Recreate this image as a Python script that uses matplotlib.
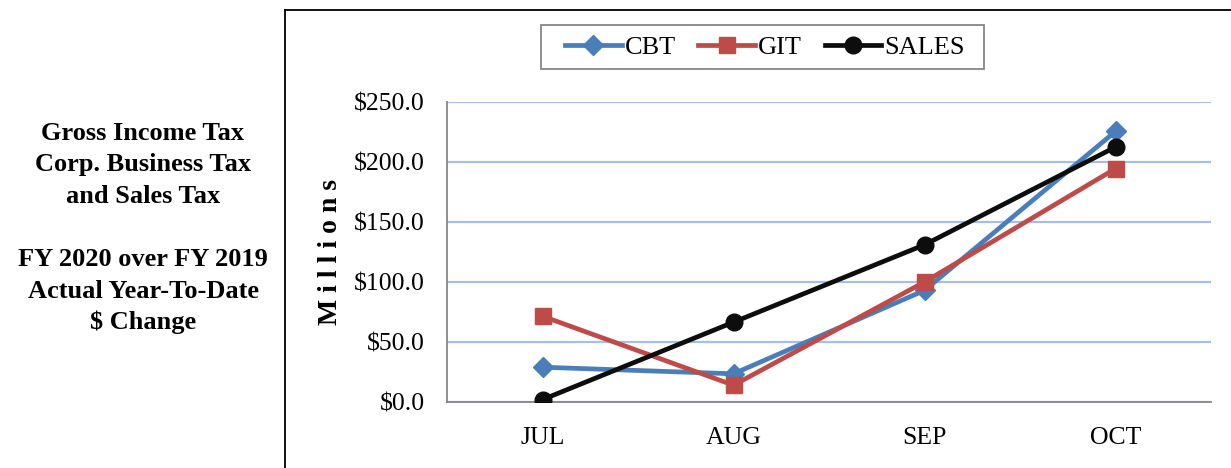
import matplotlib
matplotlib.use("Agg")
import matplotlib.pyplot as plt
from matplotlib.lines import Line2D
from matplotlib.patches import Rectangle

months = ["JUL", "AUG", "SEP", "OCT"]
cbt = [29.0, 23.5, 93.0, 225.5]
git = [71.5, 14.0, 100.0, 194.5]
sales = [2.0, 66.5, 131.0, 212.5]
y_ticks = [0, 50, 100, 150, 200, 250]
y_tick_labels = ["$0.0", "$50.0", "$100.0", "$150.0", "$200.0", "$250.0"]
side_text = ["Gross Income Tax", "Corp. Business Tax", "and Sales Tax", "",
             "FY 2020 over FY 2019", "Actual Year-To-Date", "$ Change"]

plt.rcParams['font.family'] = ['Liberation Serif', 'DejaVu Serif']

W, H = 1231, 468
fig = plt.figure(figsize=(W / 100, H / 100), dpi=100)
ax = fig.add_axes([447 / W, 1 - 402 / H, (1211 - 447) / W, (402 - 102) / H])

x = list(range(len(months)))
ax.plot(x, cbt, color="#4A7EBB", lw=3.4, marker="D", ms=10.5, label="CBT", zorder=3)
ax.plot(x, git, color="#BE4B48", lw=3.4, marker="s", ms=11.5, label="GIT", zorder=3)
ax.plot(x, sales, color="#0D0D0D", lw=3.4, marker="o", ms=12, label="SALES", zorder=4)

ax.set_xlim(-0.5, len(months) - 0.5)
ax.set_ylim(0, 250)
ax.set_yticks(y_ticks)
ax.set_yticklabels(y_tick_labels)
ax.set_xticks(x)
ax.set_xticklabels(months)
ax.tick_params(axis="both", length=0, labelsize=18.5, colors="black")
ax.tick_params(axis="y", pad=16)
ax.tick_params(axis="x", pad=18)
ax.yaxis.grid(True, color="#A7BFE3", lw=1.6)
ax.set_axisbelow(True)
for s in ["top", "right"]:
    ax.spines[s].set_visible(False)
for s in ["left", "bottom"]:
    ax.spines[s].set_color("#868686")
    ax.spines[s].set_linewidth(1.3)
ax.spines["bottom"].set_zorder(2.5)

ax.set_ylabel("M i l l i o n s", fontsize=20, fontweight="bold", labelpad=8)

# Outer frame around chart
fig.add_artist(Line2D([285 / W, 285 / W], [0, 1 - 10 / H], transform=fig.transFigure,
                      color="black", lw=1.3))
fig.add_artist(Line2D([285 / W, 1], [1 - 10 / H, 1 - 10 / H], transform=fig.transFigure,
                      color="black", lw=1.3))

# Legend box
fig.add_artist(Rectangle((541 / W, 1 - 69 / H), (984 - 541) / W, (69 - 25) / H,
                         transform=fig.transFigure, facecolor="white",
                         edgecolor="#868686", lw=1.3))
leg = fig.legend(loc="center", bbox_to_anchor=(765 / W, 1 - 47 / H), ncol=3,
                 fontsize=19, frameon=False,
                 handlelength=2.15, handletextpad=0.12, columnspacing=0.85,
                 borderpad=0.2)

y0 = 133
for i, line in enumerate(side_text):
    fig.text(143 / W, 1 - (y0 + i * 31.6) / H, line, ha="center", va="center",
             fontsize=19, fontweight="bold")

fig.savefig("out.png", dpi=100)
